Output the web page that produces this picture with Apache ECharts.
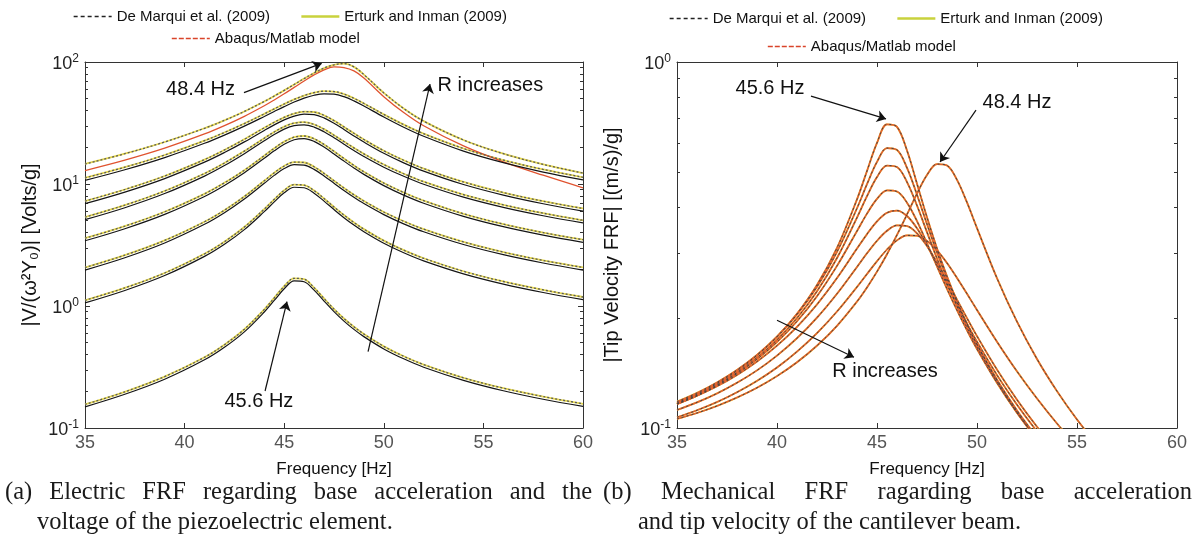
<!DOCTYPE html>
<html><head><meta charset="utf-8">
<script src="https://cdn.jsdelivr.net/npm/echarts@6/dist/echarts.min.js"></script>
<style>html,body{margin:0;padding:0;background:#fff}#c{width:1197px;height:551px}</style>
</head><body><div id="c"></div>
<script>
// ---------- data ----------
// (a) electric FRF, frequency grid [Hz]
const freqE = [35,37,39,41,42,43,44,44.5,45,45.5,46,46.5,47,47.5,48,48.5,49,50,51,52,54,56,58,60];
// Abaqus/Matlab model (solid)
const abqR1 = [0.149,0.189,0.251,0.362,0.459,0.614,0.893,1.11,1.384,1.605,1.579,1.348,1.098,0.899,0.752,0.643,0.561,0.445,0.369,0.315,0.246,0.202,0.172,0.1505];
const abqR2 = [1.06,1.34,1.776,2.55,3.205,4.228,5.933,7.134,8.463,9.403,9.318,8.409,7.238,6.171,5.297,4.607,4.063,3.269,2.731,2.345,1.835,1.512,1.291,1.129];
const abqR3 = [1.969,2.485,3.283,4.671,5.814,7.525,10.13,11.77,13.38,14.40,14.29,13.18,11.64,10.14,8.842,7.775,6.909,5.612,4.714,4.061,3.19,2.634,2.25,1.97];
const abqR4 = [3.424,4.3,5.638,7.909,9.732,12.375,16.26,18.7,21.18,23.06,23.56,22.37,20.11,17.64,15.41,13.53,11.99,9.696,8.105,6.958,5.43,4.468,3.808,3.327];
const abqR5 = [5.1,6.392,8.349,11.61,14.16,17.72,22.61,25.44,28.15,30.06,30.56,29.29,26.81,23.93,21.21,18.83,16.82,13.74,11.56,9.957,7.802,6.434,5.489,4.799];
const abqR6 = [6.901,8.585,11.08,15.1,18.11,22.15,27.5,30.54,33.53,36.01,37.37,37.08,34.82,31.49,27.97,24.79,22.06,17.85,14.9,12.75,9.897,8.106,6.885,6.0];
const abqR7 = [10.7,13.08,16.46,21.56,25.16,29.81,35.78,39.31,43.1,46.98,50.57,53.39,54.87,54.54,51.99,48.0,43.57,35.43,29.2,24.62,18.61,14.96,12.53,10.81];
const abqR8 = [12.9,15.7,19.68,25.71,30.06,35.85,43.76,48.84,54.85,61.91,69.88,78.35,86.09,91.11,90.0,84.5,74.0,52.0,38.5,30.0,20.5,15.2,11.8,9.3];
// De Marqui et al. / Erturk and Inman (dotted, just above)
const refR1 = [0.156,0.198,0.264,0.380,0.482,0.645,0.938,1.166,1.453,1.685,1.658,1.415,1.153,0.944,0.790,0.675,0.589,0.467,0.387,0.331,0.258,0.212,0.181,0.158];
const refR2 = [1.113,1.407,1.865,2.678,3.365,4.439,6.23,7.491,8.886,9.873,9.784,8.829,7.6,6.48,5.562,4.837,4.266,3.432,2.868,2.462,1.927,1.588,1.356,1.185];
const refR3 = [2.067,2.609,3.447,4.905,6.105,7.901,10.64,12.36,14.05,15.12,15.0,13.84,12.22,10.65,9.284,8.164,7.254,5.893,4.95,4.264,3.35,2.766,2.363,2.069];
const refR4 = [3.595,4.515,5.92,8.304,10.22,12.99,17.07,19.64,22.24,24.21,24.74,23.49,21.12,18.52,16.18,14.21,12.59,10.18,8.51,7.306,5.702,4.691,3.998,3.493];
const refR5 = [5.355,6.712,8.766,12.19,14.87,18.61,23.74,26.71,29.56,31.56,32.09,30.75,28.15,25.13,22.27,19.77,17.66,14.43,12.14,10.45,8.192,6.756,5.763,5.039];
const refR6 = [7.246,9.014,11.63,15.86,19.02,23.26,28.88,32.07,35.21,37.81,39.24,38.93,36.56,33.06,29.37,26.03,23.16,18.74,15.65,13.39,10.39,8.511,7.229,6.3];
const refR7 = [11.24,13.73,17.28,22.64,26.42,31.3,37.57,41.28,45.26,49.33,53.1,56.06,57.61,57.27,54.59,50.4,45.75,37.2,30.66,25.85,19.54,15.71,13.16,11.35];
const refR8 = [14.6,17.71,22.09,28.63,33.26,39.32,47.49,52.59,58.55,65.41,73.14,81.35,89.1,94.86,97.0,91.27,78.85,55.83,41.55,32.77,22.95,17.72,14.48,12.29];

// (b) mechanical FRF, frequency grid [Hz]
const freqM = [35,36,37,38,39,40,41,42,43,44,44.5,45,45.5,46,46.5,47,47.5,48,48.5,49,49.5,50,51,52,53,54,55,56];
const mechR1 = [0.1171,0.1238,0.1323,0.1434,0.1579,0.1775,0.2051,0.2459,0.3106,0.4215,0.5038,0.601,0.6756,0.6649,0.5728,0.4652,0.3763,0.3095,0.2598,0.2219,0.1923,0.169,0.1347,0.1107,0.0932,null,null,null];
const mechR2 = [0.118,0.1247,0.1332,0.1441,0.1584,0.1777,0.2044,0.2432,0.3029,0.3985,0.4636,0.5333,0.5818,0.5751,0.5138,0.4337,0.3606,0.3019,0.2562,0.2205,0.1921,0.1694,0.1355,0.1117,0.0942,null,null,null];
const mechR3 = [0.1164,0.1229,0.1312,0.1418,0.1557,0.1742,0.1997,0.2364,0.2914,0.3756,0.4298,0.4849,0.5212,0.5163,0.4698,0.4053,0.3428,0.2905,0.2485,0.215,0.188,0.1662,0.1335,0.1102,0.093,null,null,null];
const mechR4 = [0.1162,0.1225,0.1306,0.1409,0.1542,0.1718,0.1957,0.2292,0.2773,0.3452,0.3852,0.4226,0.4457,0.4426,0.4127,0.3674,0.3196,0.2764,0.24,0.2098,0.1848,0.1643,0.1328,0.11,0.0931,null,null,null];
const mechR5 = [0.1164,0.1225,0.13,0.1396,0.1519,0.1679,0.189,0.2176,0.2568,0.3092,0.3386,0.3669,0.3872,0.3926,0.3795,0.3512,0.3155,0.2794,0.2463,0.2175,0.1928,0.1721,0.1395,0.1158,0.0979,0.0841,null,null];
const mechR6 = [0.112,0.1175,0.1243,0.1329,0.1437,0.1577,0.1759,0.2002,0.2327,0.2755,0.3001,0.3247,0.3458,0.3578,0.3563,0.3404,0.3142,0.2832,0.2524,0.2243,0.1996,0.1782,0.1444,0.1195,0.1008,0.0863,null,null];
const mechR7 = [0.107,0.1118,0.1177,0.1252,0.1345,0.1463,0.1617,0.1816,0.2081,0.2429,0.2635,0.2856,0.3074,0.3256,0.336,0.3352,0.3244,0.3057,0.2823,0.257,0.2327,0.2101,0.1721,0.1428,0.1204,0.1029,0.0891,null];
const mechR8 = [0.1059,0.1099,0.1149,0.1211,0.1288,0.1386,0.1512,0.1678,0.1902,0.2215,0.2421,0.2674,0.2983,0.3369,0.3832,0.4371,0.4911,0.5263,0.5216,0.4765,0.4133,0.3517,0.2566,0.1952,0.1544,0.1261,0.1055,0.09];

// tick values
const xTicks = [35,40,45,50,55,60];
const minorE = [0.2,0.3,0.4,0.5,0.6,0.7,0.8,0.9,2,3,4,5,6,7,8,9,20,30,40,50,60,70,80,90];
const minorM = [0.2,0.3,0.4,0.5,0.6,0.7,0.8,0.9];

const N_DM = 'De Marqui et al. (2009)', N_EI = 'Erturk and Inman (2009)', N_AB = 'Abaqus/Matlab model';
const capA1 = '(a) Electric FRF regarding base acceleration and the';
const capA2 = 'voltage of the piezoelectric element.';
const capB1 = '(b) Mechanical FRF ragarding base acceleration';
const capB2 = 'and tip velocity of the cantilever beam.';

// ---------- chart ----------
const SANS = "'Liberation Sans', Arial, sans-serif";
const chart = echarts.init(document.getElementById('c'), null, {renderer:'canvas'});

function pts(fx, arr){ const out=[]; arr.forEach((v,i)=>{ if(v!=null) out.push([fx[i], v]); }); return out; }
const series = [];
function addLine(name, g, fx, arr, ls){
  series.push({name, type:'line', xAxisIndex:g*2, yAxisIndex:g*4, data:pts(fx,arr),
    symbol:'none', showSymbol:false, smooth:0.35, lineStyle:ls, itemStyle:{color:ls.color},
    silent:true, animation:false});
}
const stYel = {color:'#e6d84e', width:1.8};
const stBlk = {color:'#151515', width:1.2};
const stRed = {color:'#e0532f', width:1.3};
const stRedM = {color:'#e2642f', width:1.7};
const stDot = {color:'#5a5a5a', width:1.3, type:[2,2]};
const stDotM = {color:'#444444', width:1.0, type:[2,3]};

const refE = [refR1,refR2,refR3,refR4,refR5,refR6,refR7,refR8];
const abqE = [abqR8,abqR1,abqR2,abqR3,abqR4,abqR5,abqR6,abqR7];
refE.forEach(a=>addLine(N_EI,0,freqE,a,stYel));
abqE.forEach((a,i)=>addLine(N_AB,0,freqE,a,i===0?stRed:stBlk));
refE.forEach(a=>addLine(N_DM,0,freqE,a,stDot));

const mech = [mechR1,mechR2,mechR3,mechR4,mechR5,mechR6,mechR7,mechR8];
mech.forEach(a=>addLine(N_EI,1,freqM,a,stYel));
mech.forEach(a=>addLine(N_AB,1,freqM,a,stRedM));
mech.forEach(a=>addLine(N_DM,1,freqM,a,stDotM));

// annotations
function annot(g, lines, texts){
  series.push({type:'line', xAxisIndex:g*2, yAxisIndex:g*4, data:[], silent:true, animation:false,
    markLine:{silent:true, animation:false, symbol:['none','arrow'], symbolSize:9,
      lineStyle:{color:'#111', width:1.2, type:'solid'}, label:{show:false},
      data: lines.map(l=>[{coord:l[0]},{coord:l[1]}])},
    markPoint:{silent:true, animation:false, symbol:'rect', symbolSize:1, itemStyle:{color:'rgba(0,0,0,0)'},
      label:{show:true, position:'inside', color:'#111', fontSize:20, fontFamily:SANS},
      data: texts.map(t=>({coord:t[0], label:{formatter:t[1], align:t[2]||'center'}}))}
  });
}
annot(0,
  [[[42.98,56.1],[46.88,97.4]], [[49.21,0.423],[52.32,66]], [[44.04,0.201],[45.14,1.087]]],
  [[[40.8,59],'48.4 Hz'], [[52.7,63.6],'R increases','left'], [[43.73,0.166],'45.6 Hz']]);
annot(1,
  [[[41.7,0.807],[45.45,0.699]], [[49.95,0.739],[48.15,0.533]], [[40.0,0.197],[43.85,0.156]]],
  [[[39.65,0.846],'45.6 Hz'], [[52.0,0.773],'48.4 Hz'], [[45.4,0.143],'R increases']]);

function expLabel(v){ const e=Math.round(Math.log10(v)); return '{b|10}{s|'+e+'}'; }
const rich = {b:{fontSize:18, fontFamily:SANS, color:'#222', lineHeight:19, padding:[5,0,0,0]},
              s:{fontSize:12, fontFamily:SANS, color:'#222', lineHeight:13, verticalAlign:'top'}};

function xAxes(g){
  const base = {type:'value', gridIndex:g, min:35, max:60, interval:5,
    axisLine:{show:true, lineStyle:{color:'#333', width:1}},
    axisTick:{show:true, inside:true, length:5, lineStyle:{color:'#333'}},
    splitLine:{show:false}};
  return [
    Object.assign({}, base, {position:'bottom', name:'Frequency [Hz]', nameLocation:'middle', nameGap:33,
      nameTextStyle:{fontSize:17, fontFamily:SANS, color:'#111'},
      axisLabel:{fontSize:18, fontFamily:SANS, color:'#555', margin:6, customValues:xTicks}}),
    Object.assign({}, base, {position:'top', axisLabel:{show:false}})
  ];
}
function yAxes(g, min, max, minor, name, gap){
  const base = {type:'log', logBase:10, gridIndex:g, min, max,
    axisLine:{show:true, lineStyle:{color:'#333', width:1}},
    axisTick:{show:true, inside:true, length:5, lineStyle:{color:'#333'}},
    splitLine:{show:false}, minorSplitLine:{show:false}};
  return [
    Object.assign({}, base, {position:'left', name, nameLocation:'middle', nameGap:gap,
      nameTextStyle:{fontSize:20, fontFamily:SANS, color:'#111'},
      axisLabel:{formatter:expLabel, rich, margin:6}}),
    Object.assign({}, base, {position:'right', axisLabel:{show:false}}),
    Object.assign({}, base, {position:'left', axisLine:{show:false}, axisLabel:{show:false},
      axisTick:{show:true, inside:true, length:3, customValues:minor, lineStyle:{color:'#333'}}}),
    Object.assign({}, base, {position:'right', axisLine:{show:false}, axisLabel:{show:false},
      axisTick:{show:true, inside:true, length:3, customValues:minor, lineStyle:{color:'#333'}}})
  ];
}

const legTxt = {fontSize:15, fontFamily:SANS, color:'#111'};
const hide = {opacity:0};
const legItem = {
  dm:{name:N_DM, itemStyle:hide, lineStyle:{color:'#222', width:1.3, type:[4,3], opacity:1}},
  ei:{name:N_EI, itemStyle:hide, lineStyle:{color:'#c9d23c', width:2.6, type:'solid', opacity:1}},
  ab:{name:N_AB, itemStyle:hide, lineStyle:{color:'#d9442a', width:1.6, type:[5,2], opacity:1}}
};
function leg(left, top, items){
  return {left, top, orient:'horizontal', itemWidth:38, itemHeight:14, itemGap:30, selectedMode:false,
    textStyle:legTxt, data:items};
}

// justified caption lines (LaTeX style)
const CAP_FONT = '24.5px "Liberation Serif"';
const mctx = document.createElement('canvas').getContext('2d');
function capLine(text, x0, top, x1){
  mctx.font = CAP_FONT;
  if (x1 == null) return [{type:'text', left:x0, top, style:{text, font:CAP_FONT, fill:'#1a1a1a'}}];
  const words = text.split(' ');
  const ws = words.map(w=>mctx.measureText(w).width);
  const gap = (x1 - x0 - ws.reduce((a,b)=>a+b,0)) / (words.length-1);
  let x = x0;
  return words.map((w,i)=>{ const el={type:'text', left:x, top, style:{text:w, font:CAP_FONT, fill:'#1a1a1a'}}; x += ws[i]+gap; return el; });
}

chart.setOption({
  animation:false,
  backgroundColor:'#fff',
  grid:[{left:85, top:62, width:498, height:366}, {left:677, top:62, width:500, height:366}],
  xAxis: xAxes(0).concat(xAxes(1)),
  yAxis: yAxes(0, 0.1, 100, minorE, '|V/(ω²Y₀)| [Volts/g]', 45).concat(
         yAxes(1, 0.1, 1, minorM, '|Tip Velocity FRF| [(m/s)/g]', 55)),
  legend:[leg(68,4,[legItem.dm, legItem.ei]), leg(166,26,[legItem.ab]),
          leg(664,6,[legItem.dm, legItem.ei]), leg(762,34,[legItem.ab])],
  series,
  graphic: [].concat(
    capLine(capA1, 5, 480, 592), capLine(capA2, 37, 510),
    capLine(capB1, 603, 480, 1192), capLine(capB2, 638, 510))
});
</script></body></html>
